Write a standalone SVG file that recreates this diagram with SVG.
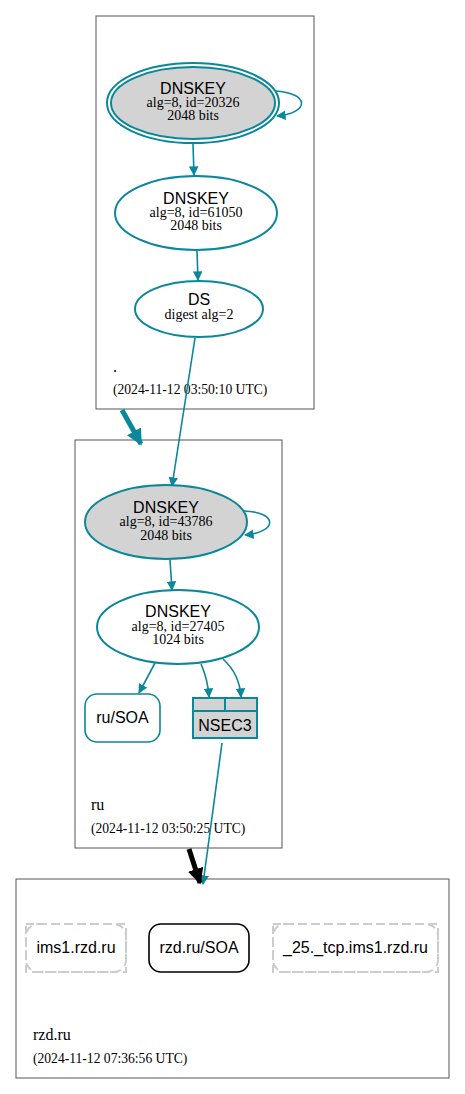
<svg xmlns="http://www.w3.org/2000/svg" width="465" height="1094" viewBox="0 0 465 1094">
<defs>
<style>
.zone{fill:#fff;stroke:#555;stroke-width:1}
.k{stroke:#0a879a;stroke-width:2;fill:#fff}
.g{fill:#d3d3d3}
.e{stroke:#0a879a;stroke-width:1.6;fill:none}
.h{font-family:"Liberation Sans",Arial,sans-serif;font-size:16px;fill:#000;text-anchor:middle}
.t{font-family:"Liberation Serif","Times New Roman",serif;font-size:14px;fill:#000;text-anchor:middle}
.zl{font-family:"Liberation Serif","Times New Roman",serif;font-size:16px;fill:#000}
.zd{font-family:"Liberation Serif","Times New Roman",serif;font-size:13.6px;fill:#000}
.dash{fill:none;stroke:#ccc;stroke-width:2;stroke-dasharray:8,5}
</style>
<marker id="a" viewBox="0 0 10 10" refX="9" refY="5" markerWidth="6" markerHeight="6" orient="auto" markerUnits="strokeWidth"><path d="M0,0L10,5L0,10z" fill="#0a879a"/></marker>
<marker id="at" viewBox="0 0 10 10" refX="9" refY="5" markerWidth="3.2" markerHeight="3.2" orient="auto" markerUnits="strokeWidth"><path d="M0,0L10,5L0,10z" fill="#0a879a"/></marker>
<marker id="ab" viewBox="0 0 10 10" refX="9" refY="5" markerWidth="3.2" markerHeight="3.2" orient="auto" markerUnits="strokeWidth"><path d="M0,0L10,5L0,10z" fill="#000"/></marker>
</defs>
<rect width="465" height="1094" fill="#fff"/>

<g id="zone-root">
<rect class="zone" x="96" y="16" width="218" height="393"/>
<text class="zl" x="113" y="372">.</text>
<text class="zd" x="113" y="394">(2024-11-12 03:50:10 UTC)</text>
</g>
<g id="zone-ru">
<rect class="zone" x="75" y="440" width="207" height="408"/>
<text class="zl" x="91" y="810">ru</text>
<text class="zd" x="91" y="833">(2024-11-12 03:50:25 UTC)</text>
</g>
<g id="zone-rzd">
<rect class="zone" x="16" y="879" width="433" height="199"/>
<text class="zl" x="33" y="1040">rzd.ru</text>
<text class="zd" x="33" y="1063">(2024-11-12 07:36:56 UTC)</text>
</g>

<g id="connectors">
<path class="e" d="M275,91 C310,93 310,113 277,116" marker-end="url(#a)"/>
<path class="e" d="M193,144 L194,175" marker-end="url(#a)"/>
<path class="e" d="M197,251 L198,280" marker-end="url(#a)"/>
<path class="e" d="M195,338 L172,486" marker-end="url(#a)"/>
<path d="M122,410 L141,444" stroke="#0a879a" stroke-width="5" fill="none" marker-end="url(#at)"/>
<path class="e" d="M244,511 C278,512 278,532 245,535" marker-end="url(#a)"/>
<path class="e" d="M170,560 L172,590" marker-end="url(#a)"/>
<path class="e" d="M155,663 L139,693" marker-end="url(#a)"/>
<path class="e" d="M201,664 C205,673 208,682 209,697" marker-end="url(#a)"/>
<path class="e" d="M223,659 C233,668 240,680 241,697" marker-end="url(#a)"/>
<path class="e" d="M222,743 L203,884" marker-end="url(#a)"/>
<path d="M189,849 L200,883" stroke="#000" stroke-width="5" fill="none" marker-end="url(#ab)"/>
</g>

<g id="node-ksk-20326">
<ellipse class="k" cx="193" cy="103" rx="86" ry="40" style="fill:none"/>
<ellipse class="k g" cx="193" cy="103" rx="82" ry="36"/>
<text class="h" x="193" y="94">DNSKEY</text>
<text class="t" x="193" y="107">alg=8, id=20326</text>
<text class="t" x="193" y="120">2048 bits</text>
</g>
<g id="node-zsk-61050">
<ellipse class="k" cx="196" cy="213" rx="81" ry="37"/>
<text class="h" x="196" y="204">DNSKEY</text>
<text class="t" x="196" y="217">alg=8, id=61050</text>
<text class="t" x="196" y="230">2048 bits</text>
</g>
<g id="node-ds">
<ellipse class="k" cx="199" cy="309" rx="64" ry="28"/>
<text class="h" x="199" y="305">DS</text>
<text class="t" x="199" y="319">digest alg=2</text>
</g>
<g id="node-ksk-43786">
<ellipse class="k g" cx="166" cy="522" rx="81" ry="37"/>
<text class="h" x="166" y="513">DNSKEY</text>
<text class="t" x="166" y="526">alg=8, id=43786</text>
<text class="t" x="166" y="540">2048 bits</text>
</g>
<g id="node-zsk-27405">
<ellipse class="k" cx="178" cy="627" rx="81" ry="37"/>
<text class="h" x="178" y="617">DNSKEY</text>
<text class="t" x="178" y="631">alg=8, id=27405</text>
<text class="t" x="178" y="644">1024 bits</text>
</g>
<g id="node-ru-soa">
<rect x="85" y="694" width="75" height="48" rx="12" fill="#fff" stroke="#0a879a" stroke-width="1.6"/>
<text class="h" x="122.5" y="723">ru/SOA</text>
</g>
<g id="node-nsec3">
<rect x="193" y="698" width="64" height="40" fill="#d3d3d3" stroke="#0a879a" stroke-width="2"/>
<line x1="193" y1="711" x2="257" y2="711" stroke="#0a879a" stroke-width="2"/>
<line x1="225" y1="698" x2="225" y2="711" stroke="#0a879a" stroke-width="2"/>
<text class="h" x="225" y="731">NSEC3</text>
</g>
<g id="node-ims1">
<rect class="dash" x="26" y="924" width="100" height="48"/>
<rect class="dash" x="26" y="924" width="100" height="48" rx="12"/>
<text class="h" x="76" y="953">ims1.rzd.ru</text>
</g>
<g id="node-rzd-soa">
<rect x="149" y="924" width="100" height="48" rx="12" fill="#fff" stroke="#000" stroke-width="1.6"/>
<text class="h" x="199" y="953">rzd.ru/SOA</text>
</g>
<g id="node-tcp">
<rect class="dash" x="273" y="924" width="165" height="48"/>
<rect class="dash" x="273" y="924" width="165" height="48" rx="12"/>
<text class="h" x="355.5" y="953">_25._tcp.ims1.rzd.ru</text>
</g>
</svg>
